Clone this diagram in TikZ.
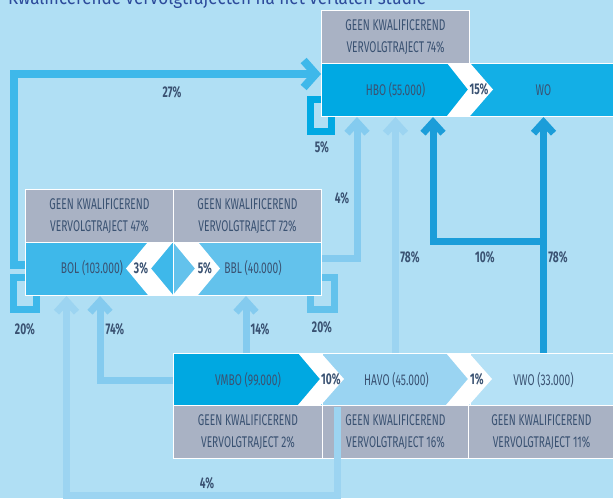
\documentclass[tikz,border=0pt]{standalone}
\usepackage{fontspec}
\setmainfont{Fira Sans}[FakeStretch=0.66]
\newfontfamily\titlefont{Fira Sans}[FakeStretch=0.9]
\usetikzlibrary{arrows.meta}
\definecolor{bg}{HTML}{B0DFF4}
\definecolor{ink}{HTML}{3A5272}
\definecolor{titleink}{HTML}{2D4B9B}
\definecolor{grayc}{HTML}{A9B2C4}
\definecolor{hboc}{HTML}{00A9E3}
\definecolor{woc}{HTML}{13AFE6}
\definecolor{bolc}{HTML}{3EB8EA}
\definecolor{bblc}{HTML}{63C2EC}
\definecolor{vmboc}{HTML}{00A8E1}
\definecolor{havoc}{HTML}{9AD4F2}
\definecolor{vwoc}{HTML}{B5E1F6}
\definecolor{flowa}{HTML}{84CBEF}
\definecolor{flowb}{HTML}{9CD4F1}
\definecolor{flowc}{HTML}{1B9DD9}
\tikzset{
  box/.style={draw=white, line width=1pt, anchor=north west, minimum height=53pt,
    inner sep=0pt, text=ink, align=center, font=\fontsize{15.5}{22}\selectfont},
  gbox/.style={box, fill=grayc},
  lbl/.style={text=ink, inner sep=0pt, font=\fontsize{15.5}{22}\selectfont},
  pct/.style={text=ink, inner sep=0pt, font=\fontsize{15.5}{16}\selectfont\bfseries},
  flow/.style={line width=7pt, -{Straight Barb[length=11pt,width=20pt]}},
  bigflow/.style={line width=8pt, -{Straight Barb[length=12pt,width=27pt]}},
  loopline/.style={line width=7pt}
}
\begin{document}
\begin{tikzpicture}[x=1pt,y=-1pt]
\fill[bg] (0,0) rectangle (613,498);
\useasboundingbox (0,0) rectangle (613,498);
\node[anchor=base west, inner sep=0pt, text=titleink, font=\titlefont\fontsize{19}{19}\selectfont] (title) at (8,4) {Kwalificerende vervolgtrajecten na het verlaten studie};

% hoger onderwijs
\node[gbox, minimum width=148pt] (hbog) at (321,10) {GEEN KWALIFICEREND\\VERVOLGTRAJECT 74\%};
\node[box, fill=hboc, minimum width=148pt] (hbo) at (321,63) {HBO (55.000)};
\node[box, fill=woc, minimum width=148pt] (wo) at (469,63) {WO};

% mbo
\node[gbox, minimum width=148pt] (bolg) at (25,189) {GEEN KWALIFICEREND\\VERVOLGTRAJECT 47\%};
\node[gbox, minimum width=148pt] (bblg) at (173,189) {GEEN KWALIFICEREND\\VERVOLGTRAJECT 72\%};
\node[box, fill=bolc, minimum width=148pt] (bol) at (25,242) {};
\node[box, fill=bblc, minimum width=148pt] (bbl) at (173,242) {};

% voortgezet onderwijs
\node[box, fill=vmboc, minimum width=149pt] (vmbo) at (173,353) {VMBO (99.000)};
\node[box, fill=havoc, minimum width=148pt] (havo) at (322,353) {HAVO (45.000)};
\node[box, fill=vwoc, minimum width=146pt] (vwo) at (470,353) {VWO (33.000)};
\node[gbox, minimum width=149pt] (vmbog) at (173,405) {GEEN KWALIFICEREND\\VERVOLGTRAJECT 2\%};
\node[gbox, minimum width=146pt] (havog) at (322,405) {GEEN KWALIFICEREND\\VERVOLGTRAJECT 16\%};
\node[gbox, minimum width=146pt] (vwog) at (468,405) {GEEN KWALIFICEREND\\VERVOLGTRAJECT 11\%};

% witte pijlvormen tussen de vakken
\fill[white] (447,63) -- ++(23,0) -- ++(23,26.5) -- ++(-23,26.5) -- ++(-23,0) -- ++(21,-26.5) -- cycle; % hbo > wo
\fill[white] (298,353) -- ++(23,0) -- ++(23,26) -- ++(-23,26) -- ++(-23,0) -- ++(22,-26) -- cycle; % vmbo > havo
\fill[white] (446,353) -- ++(23,0) -- ++(23,26) -- ++(-23,26) -- ++(-23,0) -- ++(22,-26) -- cycle; % havo > vwo
\fill[white] (148,242) -- (173,242) -- (151,268.5) -- (173,295) -- (148,295) -- (126,268.5) -- cycle; % bbl > bol
\fill[white] (173,242) -- (198,242) -- (220,268.5) -- (198,295) -- (173,295) -- (195,268.5) -- cycle; % bol > bbl
\node[lbl] (boltxt) at (92,268.5) {BOL (103.000)};
\node[lbl] (bbltxt) at (253,268.5) {BBL (40.000)};

% stromen
\draw[bigflow, bolc] ([yshift=4pt]bol.west) -- ++(-11.5,0) |- ([yshift=16pt]hbo.west);
\draw[loopline, bolc] ([yshift=-8pt]bol.west) -- ++(-11.5,0) |- ([xshift=11.5pt,yshift=-13.5pt]bol.south west) -- ([xshift=11.5pt]bol.south west);
\draw[loopline, bblc] ([yshift=-8pt]bbl.east) -- ++(12,0) |- ([xshift=-11.5pt,yshift=-13.5pt]bbl.south east) -- ([xshift=-11.5pt]bbl.south east);
\draw[loopline, hboc] ([yshift=-9pt]hbo.west) -- ++(-11,0) |- ([xshift=10.5pt,yshift=-14pt]hbo.south west) -- ([xshift=10.5pt]hbo.south west);
\draw[flow, flowa] ([yshift=11pt]bbl.east) -| ([xshift=36pt]hbo.south west);
\draw[flow, flowb] (havo.north -| hbo.south) -- (hbo.south);
\coordinate (split) at ([yshift=111.5pt]vwo.north);
\draw[flow, flowc] (vwo.north) -- (wo.south);
\draw[flow, flowc] (split) -| ([xshift=112pt]hbo.south west);
\draw[flow, flowa] (vmbo.west) -| ([xshift=75pt]bol.south west);
\draw[flow, flowa] ([xshift=-2pt]vmbo.north) -- ([xshift=-2pt]vmbo.north |- bbl.south);
\draw[flow, flowb] ([xshift=15.5pt]havo.south west) -- ++(0,88.5) -| ([xshift=41.5pt]bol.south west);

% percentages
\node[pct] (p27) at (172,92) {27\%};
\node[pct] (p5h) at (322,147) {5\%};
\node[pct] (p15) at (479,89.5) {15\%};
\node[pct] (p4a) at (342,198) {4\%};
\node[pct] (p78a) at (410,257) {78\%};
\node[pct] (p10a) at (485,257) {10\%};
\node[pct] (p78b) at (558,257) {78\%};
\node[pct] (p3) at (141,268.5) {3\%};
\node[pct] (p5b) at (205,268.5) {5\%};
\node[pct] (p20a) at (25,329) {20\%};
\node[pct] (p74) at (115,329) {74\%};
\node[pct] (p14) at (260,329) {14\%};
\node[pct] (p20b) at (322,327) {20\%};
\node[pct] (p10b) at (331,379) {10\%};
\node[pct] (p1) at (477,379) {1\%};
\node[pct] (p4b) at (207,483) {4\%};
\end{tikzpicture}
\end{document}
